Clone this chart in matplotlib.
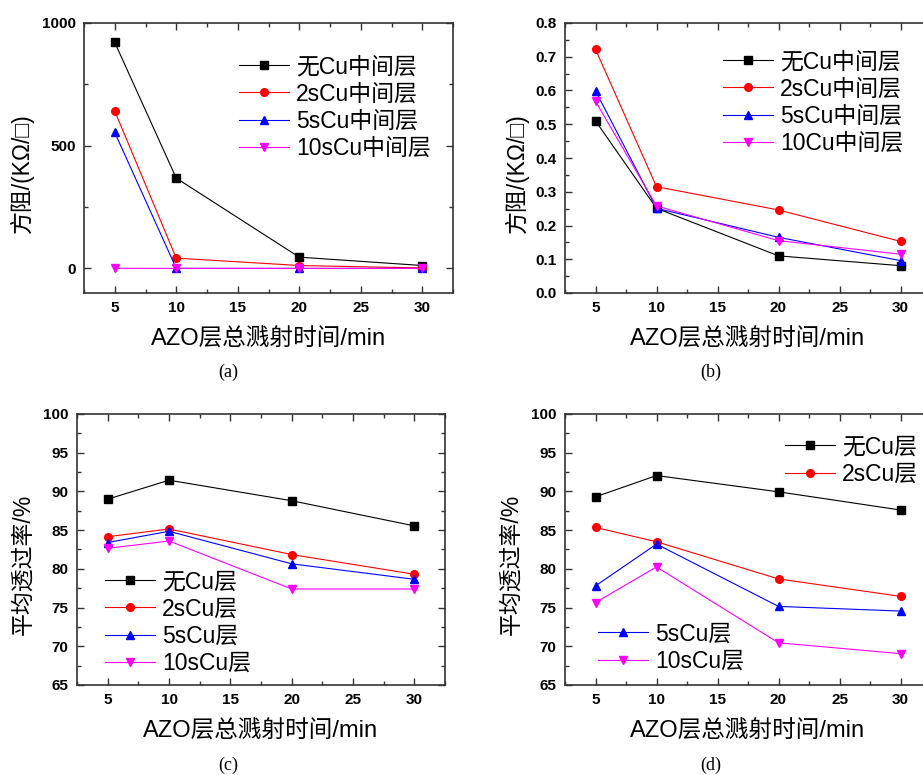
import numpy as np
import matplotlib.pyplot as plt
from matplotlib.ticker import MultipleLocator

plt.rcParams['font.family'] = ['Liberation Sans', 'Noto Sans CJK SC', 'DejaVu Sans']
plt.rcParams['axes.unicode_minus'] = False

# sputtering time (min)
t = [5, 10, 20, 30]

# (a) sheet resistance, KOhm/sq
ra_none = [921, 368, 46, 12]
ra_2s = [641, 42, 12, 2]
ra_5s = [554, 0.25, 0.165, 0.096]
ra_10s = [0.57, 0.26, 0.155, 0.115]
lab_ab = ['无Cu中间层', '2sCu中间层', '5sCu中间层', '10sCu中间层']

# (b) sheet resistance, KOhm/sq
rb_none = [0.510, 0.251, 0.110, 0.081]
rb_2s = [0.722, 0.315, 0.246, 0.153]
rb_5s = [0.599, 0.251, 0.165, 0.096]
rb_10s = [0.568, 0.258, 0.155, 0.115]
lab_b = ['无Cu中间层', '2sCu中间层', '5sCu中间层', '10Cu中间层']

# (c) average transmittance, %
tc_none = [89.0, 91.45, 88.8, 85.55]
tc_2s = [84.15, 85.15, 81.85, 79.3]
tc_5s = [83.4, 84.85, 80.65, 78.65]
tc_10s = [82.65, 83.6, 77.4, 77.4]

# (d) average transmittance, %
td_none = [89.3, 92.05, 89.95, 87.6]
td_2s = [85.35, 83.5, 78.7, 76.45]
td_5s = [77.8, 83.2, 75.15, 74.55]
td_10s = [75.65, 80.25, 70.45, 69.05]
lab_cd = ['无Cu层', '2sCu层', '5sCu层', '10sCu层']

colors = ['black', 'red', 'blue', 'magenta']
markers = ['s', 'o', '^', 'v']

W, H = 923, 775
fig = plt.figure(figsize=(W / 100, H / 100), dpi=100)


def px_axes(l, t_, r, b):
    return fig.add_axes([l / W, 1 - b / H, (r - l) / W, (b - t_) / H])


def style(ax, ylim, ymaj, ymin, ylabel, lx):
    ax.set_xlim(2.5, 32.5)
    ax.set_ylim(*ylim)
    ax.xaxis.set_major_locator(MultipleLocator(5))
    ax.xaxis.set_minor_locator(MultipleLocator(2.5))
    ax.yaxis.set_major_locator(MultipleLocator(ymaj))
    ax.yaxis.set_minor_locator(MultipleLocator(ymin))
    ax.tick_params(which='both', direction='in', top=True, right=True,
                   width=1.0, color='#333333')
    ax.tick_params(which='major', length=5, pad=6, labelsize=11)
    ax.tick_params(which='minor', length=3)
    for lb in ax.get_xticklabels() + ax.get_yticklabels():
        lb.set_fontweight('bold')
        lb.set_family('Liberation Sans')
    for s in ax.spines.values():
        s.set_linewidth(1.2)
        s.set_color('#333333')
    ax.set_xlabel('AZO层总溅射时间/min', fontsize=17, labelpad=9)
    ax.set_ylabel(ylabel, fontsize=16.5)
    ax.yaxis.set_label_coords(lx, 0.445)


def draw(ax, series, labels):
    hs = []
    for y, c, m, lab in zip(series, colors, markers, labels):
        h, = ax.plot(t, y, color=c, marker=m, markersize=5.5, linewidth=0.8,
                     label=lab)
        hs.append(h)
    return hs


def legend(ax, handles, labels, x, y):
    lg = ax.legend(handles, labels, loc='center left', frameon=False,
                   bbox_to_anchor=(x / W, 1 - y / H),
                   bbox_transform=fig.transFigure, fontsize=16.5,
                   handlelength=2.2, handletextpad=0.3, labelspacing=0.18,
                   borderpad=0, borderaxespad=0)
    return lg


# (a)
ax = px_axes(84, 23, 453, 293)
hs = draw(ax, [ra_none, ra_2s, ra_5s, ra_10s], lab_ab)
style(ax, (-100, 1000), 500, 250, '方阻/(KΩ/□)', -0.135)
legend(ax, hs, lab_ab, 239, 107.5)
fig.text(228 / W, 1 - 372 / H, '(a)', family='Liberation Serif', fontsize=13,
         ha='center', va='center')

# (b)
ax = px_axes(565, 23, 931, 293)
hs = draw(ax, [rb_none, rb_2s, rb_5s, rb_10s], lab_b)
style(ax, (0, 0.8), 0.1, 0.05, '方阻/(KΩ/□)', -0.1)
legend(ax, hs, lab_b, 723, 102.5)
fig.text(711 / W, 1 - 372 / H, '(b)', family='Liberation Serif', fontsize=13,
         ha='center', va='center')

# (c)
ax = px_axes(77, 414, 445, 685)
hs = draw(ax, [tc_none, tc_2s, tc_5s, tc_10s], lab_cd)
style(ax, (65, 100), 5, 2.5, '平均透过率/%', -0.116)
legend(ax, hs, lab_cd, 105, 622.5)
fig.text(228 / W, 1 - 765 / H, '(c)', family='Liberation Serif', fontsize=13,
         ha='center', va='center')

# (d)
ax = px_axes(565, 414, 931, 685)
hs = draw(ax, [td_none, td_2s, td_5s, td_10s], lab_cd)
style(ax, (65, 100), 5, 2.5, '平均透过率/%', -0.117)
lg1 = legend(ax, hs[:2], lab_cd[:2], 785, 460.5)
ax.add_artist(lg1)
legend(ax, hs[2:], lab_cd[2:], 598, 647.5)
fig.text(711 / W, 1 - 765 / H, '(d)', family='Liberation Serif', fontsize=13,
         ha='center', va='center')

fig.savefig('out.png', dpi=100)
